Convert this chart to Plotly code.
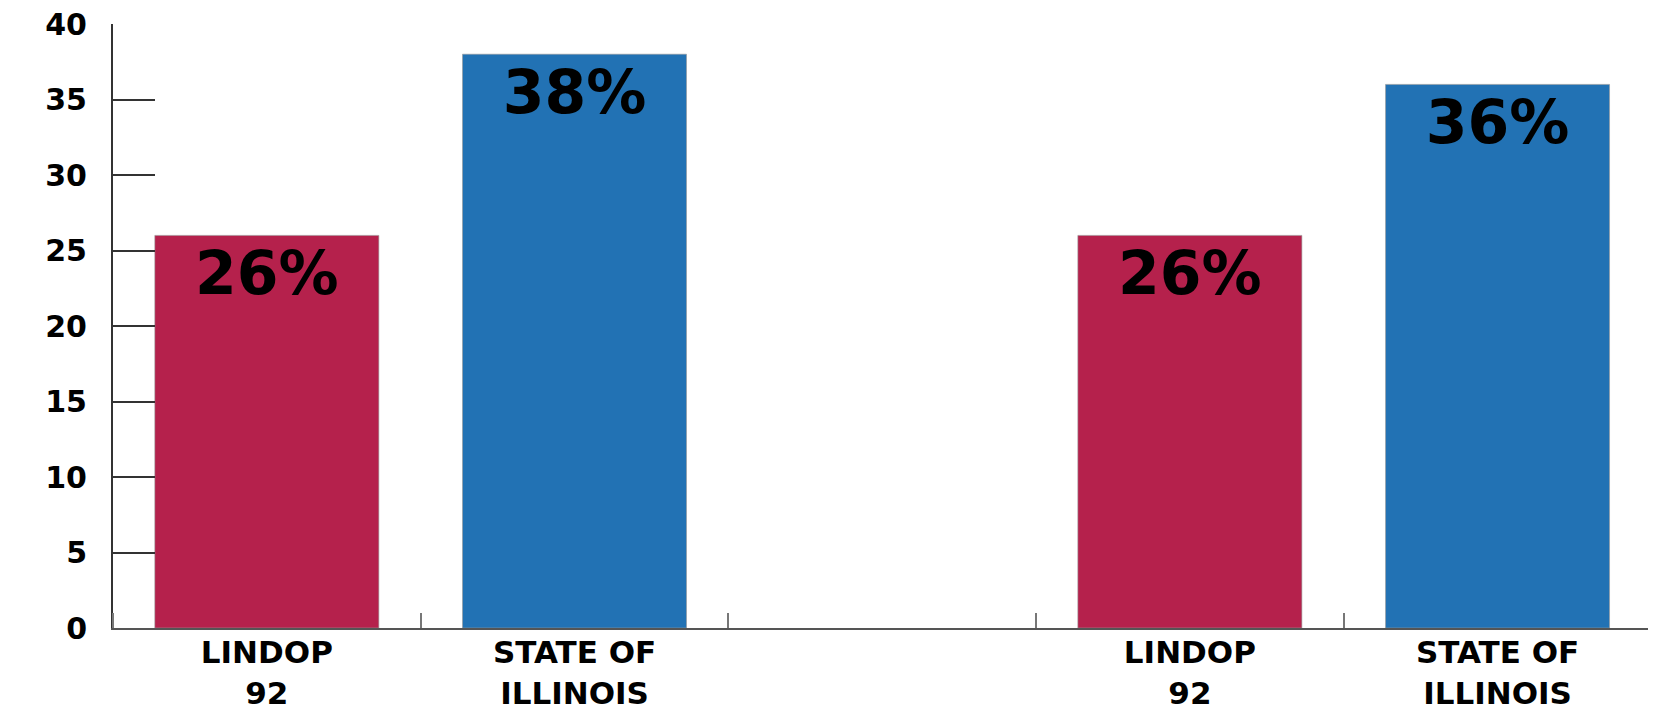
import plotly.graph_objects as go

# Data
bar_labels = ["LINDOP<br>92", "STATE OF<br>ILLINOIS", "LINDOP<br>92", "STATE OF<br>ILLINOIS"]
slot_positions = [0, 1, 3, 4]          # slot 2 is an empty gap between the two groups
values = [26, 38, 26, 36]
bar_colors = ["#B5214C", "#2272B4", "#B5214C", "#2272B4"]
y_ticks = [0, 5, 10, 15, 20, 25, 30, 35, 40]

FONT = "DejaVu Sans"

fig = go.Figure()
fig.add_trace(go.Bar(
    x=slot_positions,
    y=values,
    width=0.728,
    marker=dict(color=bar_colors, line=dict(color="rgba(150,150,150,0.6)", width=1)),
    texttemplate="%{y}%",
    textposition="inside",
    insidetextanchor="end",
    textangle=0,
    textfont=dict(family=FONT, size=60, color="black", weight="bold"),
    constraintext="none",
    showlegend=False,
    hoverinfo="skip",
))

fig.update_layout(
    width=1656, height=712,
    margin=dict(l=105, r=8, t=16, b=92),
    paper_bgcolor="white", plot_bgcolor="white",
    font=dict(family=FONT, color="black"),
)

fig.update_xaxes(
    range=[-0.5, 4.515],
    automargin=False,
    tickmode="array",
    tickvals=slot_positions,
    ticktext=bar_labels,
    ticks="",
    tickfont=dict(family=FONT, size=31, color="black", weight="bold"),
    ticklabelstandoff=-4,
    ticklabeloverflow="allow",
    showline=True, linecolor="#555555", linewidth=2,
    showgrid=False, zeroline=False,
    minor=dict(tickmode="linear", tick0=0.5, dtick=1, ticks="inside",
               ticklen=15, tickwidth=2, tickcolor="#777777", showgrid=False),
)

fig.update_yaxes(
    range=[0, 40],
    automargin=False,
    tickmode="array",
    tickvals=y_ticks,
    ticks="inside", ticklen=42, tickwidth=2, tickcolor="#333333",
    tickfont=dict(family=FONT, size=30, color="black", weight="bold"),
    ticklabelstandoff=18,
    ticklabeloverflow="allow",
    showline=True, linecolor="#333333", linewidth=2,
    showgrid=False, zeroline=False,
)

fig.write_html("out.html")
